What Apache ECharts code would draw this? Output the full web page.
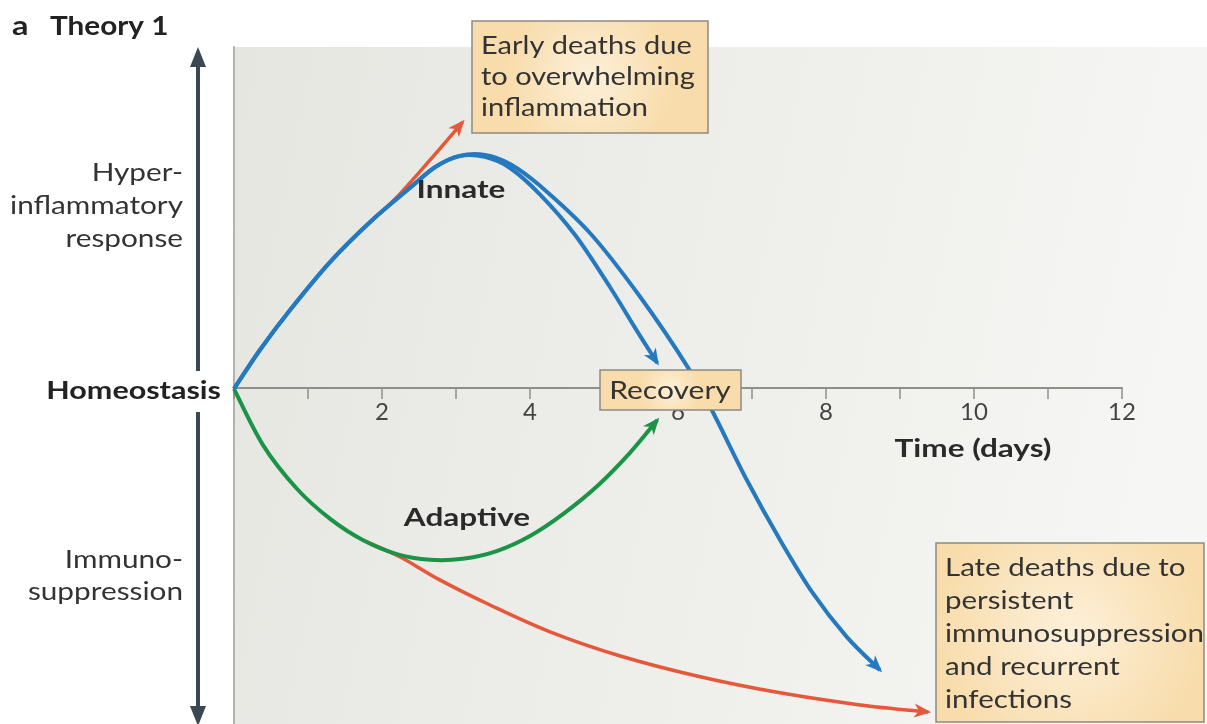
<!DOCTYPE html>
<html>
<head>
<meta charset="utf-8">
<script src="https://cdn.jsdelivr.net/npm/echarts@6/dist/echarts.min.js"></script>
<style>
  html, body { margin: 0; padding: 0; background: #fff; }
  #chart { width: 1207px; height: 724px; }
</style>
</head>
<body>
<div id="chart"></div>
<script>
// days on x, response level on y (0 = homeostasis, + = hyperinflammation, - = immunosuppression)
const dayTicks = [2, 4, 6, 8, 10, 12];

const innateToLate = [[0, 0], [0.35, 11.6], [0.76, 23.6], [1.3, 37.9], [1.84, 49.8], [2.38, 60], [2.72, 66.2],
  [3.05, 69.5], [3.39, 69.8], [3.73, 67.1], [4.14, 60.5], [4.81, 46.5], [5.49, 27.4], [6.14, 6.2], [6.47, -6.9],
  [6.93, -27.2], [7.38, -45.1], [7.82, -60.9], [8.28, -74], [8.73, -83.9]];
const innateToRecovery = [[0, 0], [0.35, 11.6], [0.76, 23.6], [1.3, 37.9], [1.84, 49.8], [2.38, 60], [2.72, 66.2],
  [3.05, 69.5], [3.39, 69.2], [3.73, 65.9], [4.14, 57.9], [4.61, 45.9], [5.08, 30.4], [5.42, 18.2], [5.72, 7.7]];
const earlyDeath = [[1.84, 49.8], [2.18, 56.7], [2.65, 68.3], [3.09, 79.6]];
const adaptive = [[0, 0], [0.39, -16.7], [0.85, -29.8], [1.3, -38.8], [1.74, -45.1], [2.2, -49.3], [2.65, -51],
  [3.09, -50.7], [3.55, -48.4], [4.0, -43.9], [4.45, -37.3], [4.91, -29], [5.35, -19.1], [5.72, -9.3]];
const lateDeath = [[1.74, -45.1], [2.24, -50.1], [2.78, -57], [3.46, -64.5], [4.27, -72.5], [5.22, -79.7],
  [6.3, -85.9], [7.38, -90.7], [8.46, -94.3], [9.38, -96.4]];

const BLUE = '#2479bf';
const GREEN = '#1b9447';
const RED = '#e5583a';
const FONT = 'Lato, "Open Sans", sans-serif';

// smooth curve through the points (catmull-rom) with an arrow head at the end
function curve(name, data, color, width, z) {
  return {
    name: name,
    type: 'custom',
    coordinateSystem: 'cartesian2d',
    data: data,
    encode: { x: 0, y: 1 },
    clip: false,
    silent: true,
    z: z,
    renderItem: function (params, api) {
      if (params.dataIndex !== 0) return null;
      const p = data.map(d => api.coord(d));
      const n = p.length;
      let d = 'M' + p[0][0] + ' ' + p[0][1];
      for (let i = 0; i < n - 1; i++) {
        const p0 = p[i - 1] || p[i], p1 = p[i], p2 = p[i + 1], p3 = p[i + 2] || p[i + 1];
        const c1 = [p1[0] + (p2[0] - p0[0]) / 6, p1[1] + (p2[1] - p0[1]) / 6];
        const c2 = [p2[0] - (p3[0] - p1[0]) / 6, p2[1] - (p3[1] - p1[1]) / 6];
        d += ' C' + c1[0] + ' ' + c1[1] + ' ' + c2[0] + ' ' + c2[1] + ' ' + p2[0] + ' ' + p2[1];
      }
      // arrow head along the last segment
      const a = p[n - 2], b = p[n - 1];
      const len = Math.hypot(b[0] - a[0], b[1] - a[1]);
      const ux = (b[0] - a[0]) / len, uy = (b[1] - a[1]) / len;
      const vx = -uy, vy = ux;
      const L = 17, W = 14;
      const tip = [b[0] + ux * 3, b[1] + uy * 3];
      const base = [tip[0] - ux * L, tip[1] - uy * L];
      const notch = [tip[0] - ux * L * 0.72, tip[1] - uy * L * 0.72];
      return {
        type: 'group',
        children: [
          { type: 'path', shape: { pathData: d }, style: { stroke: color, lineWidth: width, fill: 'none' } },
          { type: 'polygon', shape: { points: [tip, [base[0] + vx * W / 2, base[1] + vy * W / 2], notch,
            [base[0] - vx * W / 2, base[1] - vy * W / 2]] }, style: { fill: color } }
        ]
      };
    }
  };
}

function box(x, y, w, h, z) {
  return {
    type: 'rect', z: z,
    shape: { x: x, y: y, width: w, height: h },
    style: {
      fill: { type: 'radial', x: 0.5, y: 0.5, r: 0.75,
        colorStops: [{ offset: 0, color: '#fdf0d9' }, { offset: 1, color: '#f8dcab' }] },
      stroke: '#8c8a82', lineWidth: 1.5
    }
  };
}

// the figure's lettering is wide, so text is stretched sideways a bit
function label(x, y, text, o) {
  return {
    type: 'text', z: o.z || 50,
    x: x, y: y, scaleX: o.sx || (o.bold ? 1.26 : 1.19),
    style: {
      x: 0, y: 0, text: text,
      font: (o.bold ? 'bold ' : '') + (o.size || 25) + 'px ' + FONT,
      fill: o.color || '#333',
      align: o.align || 'left',
      verticalAlign: o.va || 'middle',
      lineHeight: o.lh || 30
    }
  };
}

const chart = echarts.init(document.getElementById('chart'));

const option = {
  animation: false,
  backgroundColor: '#fff',
  grid: { left: 234, right: 85, top: 47, bottom: 0, containLabel: false, outerBoundsMode: 'none' },
  xAxis: {
    type: 'value', min: 0, max: 12, interval: 1,
    offset: -336,
    axisLine: { onZero: false, lineStyle: { color: '#8e8e8a', width: 2 } },
    axisTick: { show: true, length: 11, lineStyle: { color: '#8e8e8a', width: 1.5 } },
    axisLabel: {
      margin: 12, fontSize: 24, color: '#444', fontFamily: FONT,
      formatter: v => (dayTicks.indexOf(v) >= 0 ? String(v) : '')
    },
    splitLine: { show: false }
  },
  yAxis: {
    type: 'value', min: -100, max: 102,
    axisLine: { show: true, onZero: false, lineStyle: { color: '#b3b3ae', width: 2 } },
    axisTick: { show: false },
    axisLabel: { show: false },
    splitLine: { show: false }
  },
  series: [
    curve('Early deaths', earlyDeath, RED, 3.5, 2),
    curve('Innate (late)', innateToLate, BLUE, 4, 3),
    curve('Innate (recovery)', innateToRecovery, BLUE, 4, 3),
    curve('Late deaths', lateDeath, RED, 3.5, 2),
    curve('Adaptive', adaptive, GREEN, 4, 3)
  ],
  graphic: [
    // plot background
    { type: 'rect', z: -100, silent: true,
      shape: { x: 234, y: 47, width: 973, height: 677 },
      style: { fill: { type: 'linear', x: 0, y: 0, x2: 1, y2: 0.3,
        colorStops: [{ offset: 0, color: '#e6e6e1' }, { offset: 0.6, color: '#efefec' }, { offset: 1, color: '#f6f6f4' }] } } },

    // panel title, top clipped as in the figure
    label(12, 26, 'a', { bold: true, size: 27, color: '#222', sx: 1.2 }),
    label(50, 26, 'Theory 1', { bold: true, size: 27, color: '#222', sx: 1.1 }),
    { type: 'rect', z: 60, shape: { x: 0, y: 0, width: 230, height: 16 }, style: { fill: '#fff' } },

    // left double arrow
    { type: 'line', z: 40, shape: { x1: 198, y1: 62, x2: 198, y2: 371 }, style: { stroke: '#3b4853', lineWidth: 4 } },
    { type: 'line', z: 40, shape: { x1: 198, y1: 412, x2: 198, y2: 710 }, style: { stroke: '#3b4853', lineWidth: 4 } },
    { type: 'polygon', z: 40, shape: { points: [[198, 47], [190, 67], [206, 67]] }, style: { fill: '#3b4853' } },
    { type: 'polygon', z: 40, shape: { points: [[198, 726], [190, 706], [206, 706]] }, style: { fill: '#3b4853' } },

    label(183, 156, 'Hyper-\ninflammatory\nresponse', { align: 'right', va: 'top', lh: 33 }),
    label(221, 391, 'Homeostasis', { align: 'right', bold: true, color: '#222', sx: 1.22 }),
    label(183, 544, 'Immuno-\nsuppression', { align: 'right', va: 'top', lh: 32 }),

    label(461, 190, 'Innate', { align: 'center', bold: true, color: '#2a2a2a' }),
    label(467, 518, 'Adaptive', { align: 'center', bold: true, color: '#2a2a2a' }),
    label(973, 449, 'Time (days)', { align: 'center', bold: true, color: '#2a2a2a' }),

    box(472, 21, 236, 112, 80),
    label(481, 30, 'Early deaths due\nto overwhelming\ninflammation', { va: 'top', lh: 31, z: 81, sx: 1.16 }),

    box(600, 370, 141, 40, 80),
    label(670, 391, 'Recovery', { align: 'center', z: 81, sx: 1.2 }),

    box(936, 543, 268, 179, 80),
    label(945, 551, 'Late deaths due to\npersistent\nimmunosuppression\nand recurrent\ninfections', { va: 'top', lh: 33, z: 81, sx: 1.18 })
  ]
};

chart.setOption(option);
</script>
</body>
</html>
